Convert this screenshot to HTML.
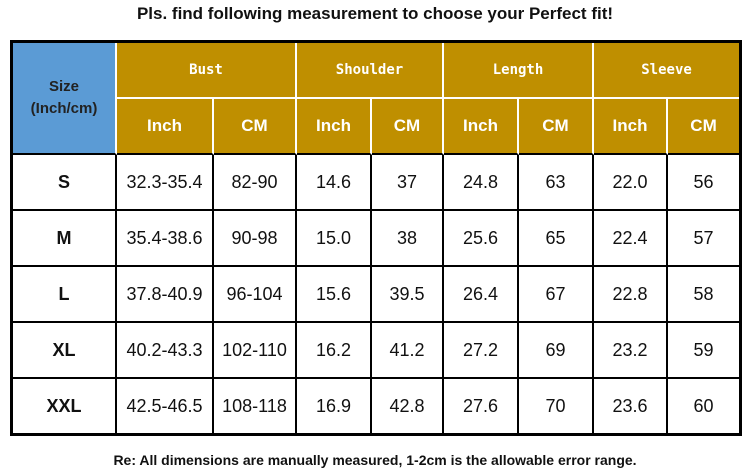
<!DOCTYPE html><html><head><style>
body{margin:0;width:750px;height:471px;background:#fff;font-family:"Liberation Sans",Arial,sans-serif;position:relative;overflow:hidden}
.t{position:absolute;left:0;width:750px;text-align:center;font-weight:bold;color:#111}
table{position:absolute;left:10px;top:40px;border-collapse:separate;border-spacing:0;border:3px solid #000;width:726px;table-layout:fixed}
td{text-align:center;padding:0;font-size:18px;color:#111;border-right:2px solid #000;border-bottom:2px solid #000}
td:last-child{border-right:none}
tr:last-child td{border-bottom:none}
.h{background:#bf8f00;color:#fff;font-weight:bold;border-right:2px solid #fff;border-bottom:2px solid #fff;font-size:17px}
.h2{border-bottom:2px solid #000}
.g{font-family:"DejaVu Sans Mono","Liberation Mono",monospace;font-size:14px}
.b{background:#5b9bd5;font-weight:bold;font-size:15px;color:#222;border-right:2px solid #fff;line-height:22px}
.s{font-weight:bold}
</style></head><body>
<div class="t" style="top:4px;font-size:17px">Pls. find following measurement to choose your Perfect fit!</div>
<table>
<colgroup><col style="width:104px"><col style="width:97px"><col style="width:83px"><col style="width:75px"><col style="width:72px"><col style="width:75px"><col style="width:75px"><col style="width:74px"><col style="width:71px"></colgroup>
<tr style="height:56px"><td class="b" rowspan="2">Size<br>(Inch/cm)</td><td class="h g" colspan="2">Bust</td><td class="h g" colspan="2">Shoulder</td><td class="h g" colspan="2">Length</td><td class="h g" colspan="2" style="border-right:none">Sleeve</td></tr>
<tr style="height:56px"><td class="h h2">Inch</td><td class="h h2">CM</td><td class="h h2">Inch</td><td class="h h2">CM</td><td class="h h2">Inch</td><td class="h h2">CM</td><td class="h h2">Inch</td><td class="h h2" style="border-right:none">CM</td></tr>
<tr style="height:56px"><td class="s">S</td><td>32.3-35.4</td><td>82-90</td><td>14.6</td><td>37</td><td>24.8</td><td>63</td><td>22.0</td><td>56</td></tr>
<tr style="height:56px"><td class="s">M</td><td>35.4-38.6</td><td>90-98</td><td>15.0</td><td>38</td><td>25.6</td><td>65</td><td>22.4</td><td>57</td></tr>
<tr style="height:56px"><td class="s">L</td><td>37.8-40.9</td><td>96-104</td><td>15.6</td><td>39.5</td><td>26.4</td><td>67</td><td>22.8</td><td>58</td></tr>
<tr style="height:56px"><td class="s">XL</td><td>40.2-43.3</td><td>102-110</td><td>16.2</td><td>41.2</td><td>27.2</td><td>69</td><td>23.2</td><td>59</td></tr>
<tr style="height:54px"><td class="s">XXL</td><td>42.5-46.5</td><td>108-118</td><td>16.9</td><td>42.8</td><td>27.6</td><td>70</td><td>23.6</td><td>60</td></tr>
</table>
<div class="t" style="top:452px;font-size:14px">Re: All dimensions are manually measured, 1-2cm is the allowable error range.</div>
</body></html>
